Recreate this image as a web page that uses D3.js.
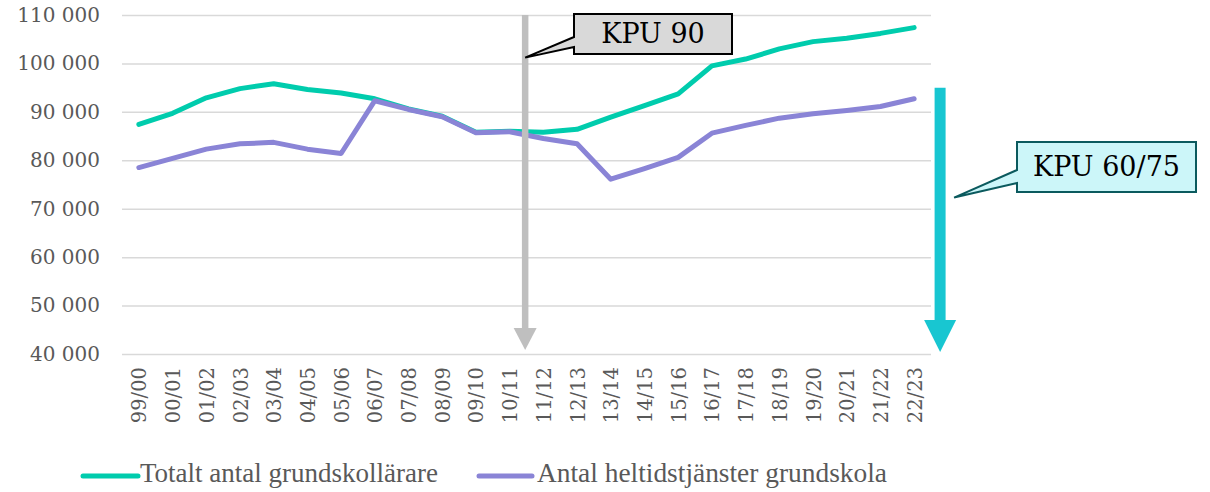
<!DOCTYPE html>
<html>
<head>
<meta charset="utf-8">
<script src="https://cdn.jsdelivr.net/npm/d3@7"></script>
<style>
    body { margin: 0; background: #fff; }
    svg text { font-family: "DejaVu Serif", Georgia, serif; }
</style>
</head>
<body>
<script>
// skolår, lärare och heltidstjänster i grundskolan
var categories = ["99/00", "00/01", "01/02", "02/03", "03/04", "04/05", "05/06", "06/07",
                  "07/08", "08/09", "09/10", "10/11", "11/12", "12/13", "13/14", "14/15",
                  "15/16", "16/17", "17/18", "18/19", "19/20", "20/21", "21/22", "22/23"]
  , totalt = [87400, 89700, 92900, 94800, 95800, 94600, 93900, 92700,
              90600, 89100, 85800, 86000, 85800, 86400, 88900, 91300,
              93700, 99500, 100900, 103000, 104500, 105200, 106200, 107400]
  , heltid = [78500, 80400, 82300, 83400, 83700, 82300, 81400, 92300,
              90500, 89000, 85700, 85900, 84500, 83400, 76100, 78300,
              80600, 85600, 87200, 88700, 89600, 90300, 91100, 92700]
  , yTicks = [40000, 50000, 60000, 70000, 80000, 90000, 100000, 110000]
  , seriesNames = ["Totalt antal grundskollärare", "Antal heltidstjänster grundskola"]
  ;

var width = 1210
  , height = 492
  , plotLeft = 122
  , plotRight = 931
  , plotTop = 15
  , plotBottom = 354
  , green = "#00ccad"
  , purple = "#8a84d6"
  , teal = "#18c6d1"
  , grey = "#bfbfbf"
  , labelColor = "#595959"
  ;

var svg = d3.select("body").append("svg").attr("width", width).attr("height", height);

var x = d3.scalePoint().domain(categories).range([plotLeft, plotRight]).padding(0.5)
  , y = d3.scaleLinear().domain([40000, 110000]).range([plotBottom, plotTop])
  , fmt = d3.formatLocale({decimal: ",", thousands: " ", grouping: [3], currency: ["", ""]}).format(",d")
  ;

// rutnät + y-axel
var yAxis = svg.append("g")
    .attr("transform", "translate(" + plotLeft + ",0)")
    .call(d3.axisLeft(y).tickValues(yTicks).tickSize(-(plotRight - plotLeft)).tickPadding(22).tickFormat(fmt));
yAxis.select(".domain").remove();
yAxis.selectAll("line").attr("stroke", "#d9d9d9").attr("stroke-width", 1.5);
yAxis.selectAll("text")
    .attr("fill", labelColor)
    .style("font-size", "20px");

// x-axel, roterade etiketter
var xAxis = svg.append("g")
    .attr("transform", "translate(0," + plotBottom + ")")
    .call(d3.axisBottom(x).tickSize(0));
xAxis.select(".domain").remove();
xAxis.selectAll("text")
    .attr("transform", "rotate(-90)")
    .attr("x", -13)
    .attr("y", 0)
    .attr("dy", "0.36em")
    .attr("text-anchor", "end")
    .attr("fill", labelColor)
    .style("font-size", "19.5px");

var line = d3.line()
    .x(function (d, i) { return x(categories[i]); })
    .y(function (d) { return y(d); });

[[totalt, green], [heltid, purple]].forEach(function (s) {
    svg.append("path")
        .datum(s[0])
        .attr("d", line)
        .attr("fill", "none")
        .attr("stroke", s[1])
        .attr("stroke-width", 5)
        .attr("stroke-linejoin", "round")
        .attr("stroke-linecap", "round");
});

// pilar
function arrow (ax, y0, y1, w, headW, headH, color) {
    svg.append("line")
        .attr("x1", ax).attr("x2", ax)
        .attr("y1", y0).attr("y2", y1 - headH + 1)
        .attr("stroke", color)
        .attr("stroke-width", w);
    svg.append("path")
        .attr("d", "M" + (ax - headW / 2) + "," + (y1 - headH) + "L" + (ax + headW / 2) + "," + (y1 - headH) + "L" + ax + "," + y1 + "Z")
        .attr("fill", color);
}

var step = x.step()
  , kpu90X = x("10/11") + step * 0.46
  , kpu60X = x("22/23") + step * 0.77
  ;

arrow(kpu90X, y(110000), y(40000) - 4, 6.5, 23, 22, grey);
arrow(kpu60X, y(95000), y(40000) - 2, 11, 32, 32, teal);

// pratbubblor
function callout (x0, y0, x1, y1, p0, p1, tx, ty, fill, stroke, label) {
    var d = "M" + x0 + "," + y0 + "L" + x1 + "," + y0 + "L" + x1 + "," + y1 + "L" + x0 + "," + y1 +
            "L" + x0 + "," + p1 + "L" + tx + "," + ty + "L" + x0 + "," + p0 + "Z";
    svg.append("path")
        .attr("d", d)
        .attr("fill", fill)
        .attr("stroke", stroke)
        .attr("stroke-width", 2)
        .attr("stroke-linejoin", "miter");
    svg.append("text")
        .attr("x", (x0 + x1) / 2)
        .attr("y", (y0 + y1) / 2 + 9)
        .attr("text-anchor", "middle")
        .attr("fill", "#000")
        .style("font-size", "27px")
        .text(label);
}

callout(574, 14, 732, 54, 37, 47, kpu90X, y(101200), "#d9d9d9", "#000", "KPU 90");
callout(1017, 142, 1196, 192, 170, 183, kpu60X + 14, y(72300), "#ccf6f9", "#0b5a5e", "KPU 60/75");

// förklaring
var legendItems = [
    {name: seriesNames[0], color: green, x0: 83, x1: 138, tx: 140, tl: 298},
    {name: seriesNames[1], color: purple, x0: 479, x1: 532, tx: 537, tl: 350}
];
var legend = svg.append("g").selectAll("g").data(legendItems).enter().append("g");
legend.append("line")
    .attr("x1", function (d) { return d.x0; })
    .attr("x2", function (d) { return d.x1; })
    .attr("y1", 476).attr("y2", 476)
    .attr("stroke", function (d) { return d.color; })
    .attr("stroke-width", 5)
    .attr("stroke-linecap", "round");
legend.append("text")
    .attr("x", function (d) { return d.tx; })
    .attr("y", 482)
    .attr("textLength", function (d) { return d.tl; })
    .attr("lengthAdjust", "spacingAndGlyphs")
    .attr("fill", labelColor)
    .style("font-family", "'Liberation Serif', serif")
    .style("font-size", "27px")
    .text(function (d) { return d.name; });
</script>
</body>
</html>
